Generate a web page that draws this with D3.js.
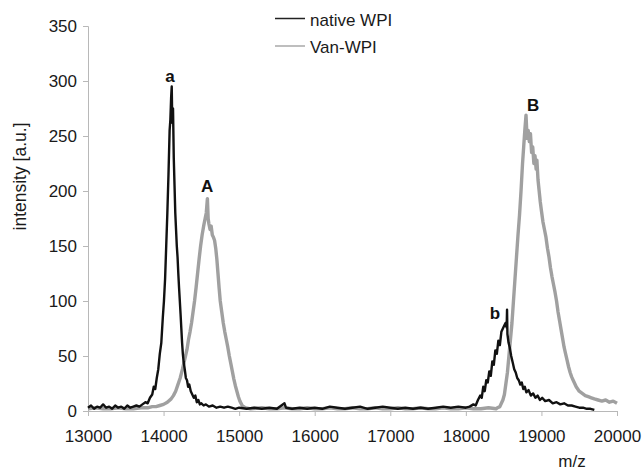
<!DOCTYPE html>
<html>
<head>
<meta charset="utf-8">
<script src="https://cdn.jsdelivr.net/npm/d3@7"></script>
<style>
  body { margin: 0; background: #fff; }
  svg { display: block; font-family: "Liberation Sans", Arial, sans-serif; }
  .axis path, .axis line { stroke: #b8b8b8; }
  .axis text { fill: #1a1a1a; font-size: 17px; }
</style>
</head>
<body>
<div class="chart"></div>
<script>
'use strict'

let width = 644;
let height = 473;
let margin = { top: 26, right: 27, bottom: 62, left: 88 };

/* x ticks and y ticks */
const xTicks = [13000, 14000, 15000, 16000, 17000, 18000, 19000, 20000];
const yTicks = [0, 50, 100, 150, 200, 250, 300, 350];

const seriesNames = ['native WPI', 'Van-WPI'];

/* native WPI: [m/z, intensity] */
const nativeWPI = [
  [13000,3],[13040,5],[13080,2],[13120,4],[13160,3],[13200,6],[13240,3],[13280,4],[13320,2],[13360,5],
  [13400,3],[13440,4],[13480,2],[13520,5],[13560,3],[13600,4],[13640,5],[13680,4],[13720,6],[13760,8],
  [13790,7],[13820,12],[13850,15],[13870,22],[13890,20],[13910,30],[13930,38],[13950,52],[13970,62],[13990,85],
  [14005,100],[14020,120],[14035,150],[14050,180],[14065,215],[14080,255],[14090,265],[14100,285],[14108,295],[14115,262],
  [14125,275],[14135,230],[14145,205],[14155,180],[14165,165],[14175,150],[14185,140],[14195,125],[14205,112],[14215,100],
  [14225,88],[14235,75],[14245,62],[14255,52],[14265,45],[14280,38],[14295,30],[14310,28],[14325,22],[14340,24],
  [14360,18],[14380,15],[14400,12],[14420,14],[14440,8],[14460,10],[14480,6],[14500,7],[14530,5],[14560,6],
  [14600,4],[14650,5],[14700,3],[14750,4],[14800,3],[14850,4],[14900,3],[14950,2],[15000,3],[15100,2],
  [15200,3],[15300,2],[15400,3],[15500,2],[15600,7],[15620,3],[15700,2],[15800,3],[15900,2],[16000,3],
  [16100,2],[16200,4],[16300,3],[16400,2],[16500,3],[16600,4],[16700,2],[16800,3],[16900,4],[17000,3],
  [17100,2],[17200,3],[17300,2],[17400,3],[17500,2],[17600,3],[17700,4],[17800,3],[17900,4],[18000,3],
  [18050,4],[18100,6],[18130,5],[18160,10],[18190,14],[18210,12],[18230,22],[18250,18],[18270,28],[18290,26],
  [18310,36],[18330,32],[18350,45],[18370,42],[18390,55],[18410,52],[18430,64],[18450,60],[18470,72],[18490,75],
  [18510,78],[18525,80],[18540,76],[18545,92],[18550,70],[18565,62],[18580,58],[18600,50],[18620,44],[18640,38],
  [18660,35],[18680,30],[18700,28],[18720,24],[18740,26],[18760,20],[18780,22],[18800,17],[18830,19],[18860,14],
  [18890,16],[18920,12],[18950,14],[18980,10],[19010,12],[19050,9],[19100,10],[19150,7],[19200,8],[19250,6],
  [19300,7],[19350,5],[19400,5],[19450,4],[19500,3],[19550,3],[19600,2],[19650,2],[19700,1]
];

/* Van-WPI: [m/z, intensity] */
const vanWPI = [
  [13000,2],[13100,3],[13200,2],[13300,2],[13400,3],[13500,2],[13600,2],[13700,3],[13800,3],[13850,4],
  [13900,4],[13950,5],[14000,6],[14050,8],[14100,11],[14130,14],[14160,18],[14190,24],[14220,30],[14250,38],
  [14270,44],[14290,50],[14310,56],[14330,65],[14350,72],[14370,80],[14390,90],[14410,100],[14430,112],[14450,125],
  [14470,138],[14490,150],[14510,160],[14530,168],[14550,175],[14565,180],[14580,193],[14590,175],[14600,170],[14615,165],
  [14630,168],[14645,160],[14660,158],[14675,155],[14690,148],[14705,138],[14720,125],[14735,112],[14750,100],[14770,90],
  [14790,80],[14810,72],[14830,65],[14850,58],[14870,50],[14890,43],[14910,36],[14930,29],[14950,23],[14970,18],
  [14990,13],[15010,9],[15040,5],[15080,3],[15150,2],[15300,3],[15400,2],[15500,2],[15600,3],[15700,2],
  [15800,2],[15900,3],[16000,2],[16100,2],[16200,3],[16300,2],[16400,2],[16500,3],[16600,2],[16700,2],
  [16800,3],[16900,2],[17000,2],[17100,3],[17200,2],[17300,2],[17400,3],[17500,2],[17600,2],[17700,3],
  [17800,2],[17900,2],[18000,3],[18100,2],[18200,2],[18300,3],[18400,2],[18420,3],[18450,4],[18470,7],
  [18490,10],[18510,15],[18530,25],[18550,35],[18570,50],[18590,65],[18610,80],[18630,100],[18650,120],[18670,140],
  [18690,160],[18710,178],[18730,200],[18750,225],[18765,240],[18780,255],[18796,269],[18810,248],[18825,255],[18840,245],
  [18855,252],[18870,235],[18885,240],[18900,225],[18915,232],[18930,220],[18940,228],[18955,210],[18970,200],[18985,190],
  [19000,182],[19020,172],[19040,165],[19060,158],[19080,148],[19100,140],[19120,130],[19140,122],[19160,115],[19180,108],
  [19200,100],[19220,90],[19240,82],[19260,74],[19280,66],[19300,58],[19320,52],[19340,46],[19360,40],[19380,35],
  [19400,31],[19420,28],[19440,25],[19460,22],[19480,20],[19500,18],[19540,16],[19580,14],[19620,13],[19660,12],
  [19700,11],[19750,10],[19800,9],[19850,10],[19900,8],[19950,9],[20000,7]
];

/* peak labels: text, m/z, intensity of the label baseline */
const peakNames = ['a', 'A', 'b', 'B'];
const peakMz = [14085, 14575, 18386, 18889];
const peakInt = [299, 199, 84, 273];


function drawChart () {

    /* X AXIS */
    const xScale = d3.scaleLinear()
                     .domain([13000, 20000])
                     .range([margin.left, width - margin.right]);
    const xAxis = d3.axisBottom(xScale)
                    .tickValues(xTicks)
                    .tickSize(5)
                    .tickPadding(14)
                    .tickFormat(d3.format('d'));

    /* Y AXIS */
    const yScale = d3.scaleLinear()
                     .domain([0, 350])
                     .range([height - margin.bottom, margin.top]);
    const yAxis = d3.axisLeft(yScale)
                    .tickValues(yTicks)
                    .tickSize(5)
                    .tickPadding(6);

    const svg = d3.select('.chart')
                  .append('svg')
                  .attr('width', width)
                  .attr('height', height);

    svg.append('g')
        .attr('class', 'axis')
        .attr('transform', 'translate(0,' + (height - margin.bottom) + ')')
        .call(xAxis);

    svg.append('g')
        .attr('class', 'axis')
        .attr('transform', 'translate(' + margin.left + ',0)')
        .call(yAxis);

    const line = d3.line()
                   .x(d => xScale(d[0]))
                   .y(d => yScale(d[1]));

    svg.append('path')
        .datum(vanWPI)
        .attr('d', line)
        .attr('fill', 'none')
        .attr('stroke', '#a0a0a0')
        .attr('stroke-width', 3.4)
        .attr('stroke-linejoin', 'round');

    svg.append('path')
        .datum(nativeWPI)
        .attr('d', line)
        .attr('fill', 'none')
        .attr('stroke', '#111')
        .attr('stroke-width', 2.4)
        .attr('stroke-linejoin', 'round');

    /* peak letters */
    svg.selectAll('.peak')
        .data(peakNames)
        .enter()
        .append('text')
        .attr('class', 'peak')
        .attr('x', (d, i) => xScale(peakMz[i]))
        .attr('y', (d, i) => yScale(peakInt[i]))
        .attr('text-anchor', 'middle')
        .style('font-size', '17px')
        .style('font-weight', 'bold')
        .style('fill', '#111')
        .text(d => d);

    /* legend */
    const colors = ['#222', '#a8a8a8'];
    const legend = svg.selectAll('.legend')
                      .data(seriesNames)
                      .enter()
                      .append('g')
                      .attr('class', 'legend')
                      .attr('transform', (d, i) => 'translate(275,' + (18.5 + i * 27.5) + ')');
    legend.append('line')
        .attr('x1', 0).attr('x2', 30)
        .attr('stroke', (d, i) => colors[i])
        .attr('stroke-width', 1.5);
    legend.append('text')
        .attr('x', 35)
        .attr('y', 7)
        .style('font-size', '17px')
        .style('fill', '#1a1a1a')
        .text(d => d);

    /* axis titles */
    svg.append('text')
        .attr('transform', 'translate(25.5,176.5) rotate(-90)')
        .attr('text-anchor', 'middle')
        .style('font-size', '17.5px')
        .style('fill', '#1a1a1a')
        .text('intensity [a.u.]');

    svg.append('text')
        .attr('x', 572)
        .attr('y', 467)
        .attr('text-anchor', 'middle')
        .style('font-size', '17px')
        .style('fill', '#1a1a1a')
        .text('m/z');
}

document.addEventListener('DOMContentLoaded', drawChart);
</script>
</body>
</html>
